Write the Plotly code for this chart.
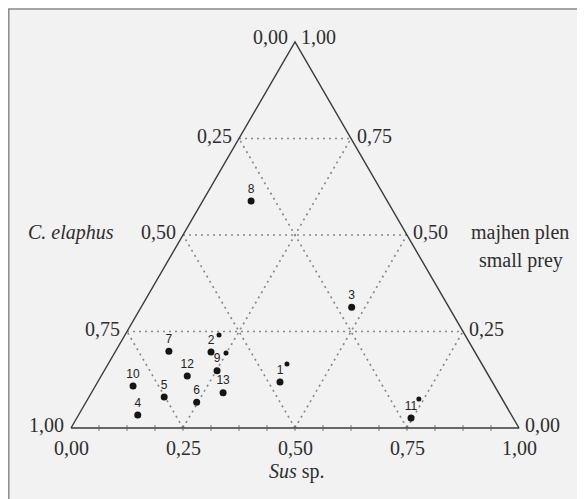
import plotly.graph_objects as go

# ---- data (proportions) ----
site_labels = ["1", "2", "3", "4", "5", "6", "7", "8", "9", "10", "11", "12", "13"]
sus = [0.407, 0.214, 0.470, 0.132, 0.168, 0.247, 0.119, 0.108, 0.252, 0.084, 0.746, 0.192, 0.294]
small_prey = [0.119, 0.197, 0.313, 0.034, 0.080, 0.067, 0.199, 0.588, 0.148, 0.109, 0.026, 0.135, 0.091]
c_elaphus = [0.474, 0.589, 0.217, 0.834, 0.752, 0.686, 0.682, 0.304, 0.600, 0.807, 0.228, 0.673, 0.615]

# secondary small markers (*) next to sites 2, 9, 1, 11
star_sus = [0.210, 0.249, 0.399, 0.739]
star_small_prey = [0.241, 0.194, 0.166, 0.075]
star_c_elaphus = [0.549, 0.557, 0.435, 0.186]

grid_values = [0.25, 0.5, 0.75]
tick_values = [0.0, 0.25, 0.5, 0.75, 1.0]
tick_text = ["0,00", "0,25", "0,50", "0,75", "1,00"]

# ---- geometry (page has an 8px body margin, so the figure is 8px smaller) ----
OFF = 8
W, H = 585 - OFF, 499 - OFF
PX_W = 448.0  # pixel width of triangle base
PX_H = 386.0  # pixel height of triangle
X0, Y0 = 71.0 - OFF, 428.0 - OFF  # bottom-left vertex in figure pixels


def tx(u, s):
    return u + s / 2.0


def ty(u, s):
    return s


def norm(u, s, c):
    t = u + s + c
    return u / t, s / t


fig = go.Figure()

SERIF = "Liberation Serif"
TXT = "#2e2e2e"

# dotted grid
gx, gy = [], []
for k in grid_values:
    for (u1, s1), (u2, s2) in [
        ((0, k), (1 - k, k)),          # constant small prey
        ((k, 0), (k, 1 - k)),          # constant Sus
        ((1 - k, 0), (0, 1 - k)),      # constant C. elaphus
    ]:
        gx += [tx(u1, s1), tx(u2, s2), None]
        gy += [ty(u1, s1), ty(u2, s2), None]
fig.add_trace(go.Scatter(x=gx, y=gy, mode="lines",
                         line=dict(color="#8a8a8a", width=1.7, dash="2px,4px"),
                         hoverinfo="skip", showlegend=False))

# triangle outline
fig.add_trace(go.Scatter(x=[tx(0, 0), tx(1, 0), tx(0, 1), tx(0, 0)],
                         y=[ty(0, 0), ty(1, 0), ty(0, 1), ty(0, 0)],
                         mode="lines", line=dict(color="#3a3a3a", width=1.4),
                         hoverinfo="skip", showlegend=False))

# small ticks along the base
minor = [i / 16 for i in range(1, 16)]
fig.add_trace(go.Scatter(x=[tx(m, 0) for m in minor], y=[0] * len(minor), mode="markers",
                         marker=dict(symbol="line-ns", size=4, line=dict(color="#666", width=1)),
                         hoverinfo="skip", showlegend=False))

# data points
px, py = [], []
for u, s, c in zip(sus, small_prey, c_elaphus):
    uu, ss = norm(u, s, c)
    px.append(tx(uu, ss))
    py.append(ty(uu, ss))
fig.add_trace(go.Scatter(x=px, y=py, mode="markers+text", text=site_labels,
                         textposition="top center",
                         textfont=dict(family="Arial, Liberation Sans", size=12, color="#222"),
                         marker=dict(color="#151515", size=7),
                         showlegend=False))

sx, sy = [], []
for u, s, c in zip(star_sus, star_small_prey, star_c_elaphus):
    uu, ss = norm(u, s, c)
    sx.append(tx(uu, ss))
    sy.append(ty(uu, ss))
fig.add_trace(go.Scatter(x=sx, y=sy, mode="markers",
                         marker=dict(color="#151515", size=5, symbol="circle"),
                         showlegend=False))

ann = []
fs = 20
# bottom axis: Sus sp.
for v, t in zip(tick_values, tick_text):
    ann.append(dict(x=tx(v, 0), y=0, text=t, showarrow=False, xanchor="center", yanchor="middle",
                    yshift=-20, font=dict(family=SERIF, size=fs, color=TXT)))
# left side: C. elaphus (value = 1 - height on left edge)
for v, t in zip(tick_values[1:], tick_text[1:]):
    s = 1 - v
    ann.append(dict(x=tx(0, s), y=ty(0, s), text=t, showarrow=False, xanchor="right", yanchor="middle",
                    xshift=-5, yshift=3, font=dict(family=SERIF, size=fs, color=TXT)))
ann.append(dict(x=tx(0, 1), y=ty(0, 1), text=tick_text[0], showarrow=False, xanchor="right",
                yanchor="middle", xshift=-5, yshift=5, font=dict(family=SERIF, size=fs, color=TXT)))
# right side: small prey
for v, t in zip(tick_values, tick_text):
    u = 1 - v
    ann.append(dict(x=tx(u, v), y=ty(u, v), text=t, showarrow=False, xanchor="left", yanchor="middle",
                    xshift=4, yshift=3 if v < 1 else 5, font=dict(family=SERIF, size=fs, color=TXT)))

# axis titles
ann.append(dict(x=tx(0, 0.5), y=0.5, text="<i>C. elaphus</i>", showarrow=False, xanchor="center",
                yanchor="middle", xshift=-112, yshift=3, font=dict(family=SERIF, size=fs, color=TXT)))
ann.append(dict(x=tx(0.5, 0.5), y=0.5, text="majhen plen", showarrow=False, xanchor="center",
                yanchor="middle", xshift=113, yshift=3, font=dict(family=SERIF, size=fs, color=TXT)))
ann.append(dict(x=tx(0.5, 0.5), y=0.5, text="small prey", showarrow=False, xanchor="center",
                yanchor="middle", xshift=114, yshift=-25, font=dict(family=SERIF, size=fs, color=TXT)))
ann.append(dict(x=tx(0.5, 0), y=0, text="<i>Sus</i> sp.", showarrow=False, xanchor="center",
                yanchor="middle", xshift=2, yshift=-43, font=dict(family=SERIF, size=fs, color=TXT)))

xr = [-X0 / PX_W, (W - X0) / PX_W]
yr = [(Y0 - H) / PX_H, Y0 / PX_H]

fig.update_layout(
    width=W, height=H,
    margin=dict(l=0, r=0, t=0, b=0),
    paper_bgcolor="#f2f2f2", plot_bgcolor="#f2f2f2",
    xaxis=dict(range=xr, visible=False, fixedrange=True),
    yaxis=dict(range=yr, visible=False, fixedrange=True),
    annotations=ann,
    shapes=[dict(type="rect", xref="paper", yref="paper",
                 x0=0.8 / W, x1=(W - 1.5) / W, y0=-0.05, y1=1 - 1.0 / H,
                 line=dict(color="#8a8a8a", width=1.5), fillcolor="rgba(0,0,0,0)")],
)

fig.write_html("out.html")
